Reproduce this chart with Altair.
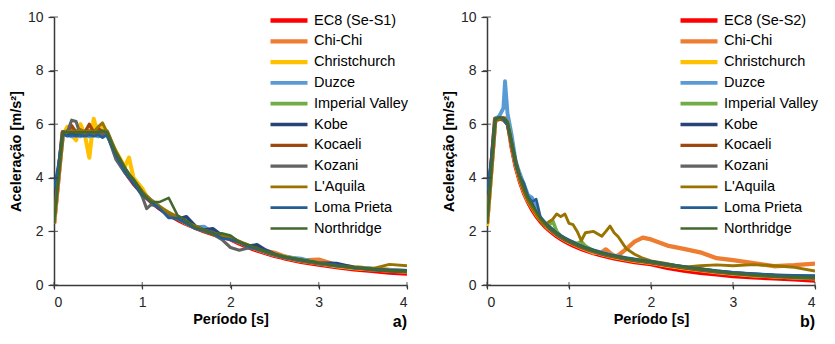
import altair as alt
import pandas as pd

FONT = "Liberation Sans"
AXIS_COLOR = "#3a3a3a"
TEXT_COLOR = "#262626"

NAMES_A = ["EC8 (Se-S1)", "Chi-Chi", "Christchurch", "Duzce", "Imperial Valley", "Kobe",
           "Kocaeli", "Kozani", "L'Aquila", "Loma Prieta", "Northridge"]
NAMES_B = ["EC8 (Se-S2)", "Chi-Chi", "Christchurch", "Duzce", "Imperial Valley", "Kobe",
           "Kocaeli", "Kozani", "L'Aquila", "Loma Prieta", "Northridge"]
COLORS = ["#FF0000", "#ED7D31", "#FFC000", "#5B9BD5", "#70AD47", "#264478",
          "#9E480E", "#636363", "#997300", "#255E91", "#43682B"]
WIDTHS = [4.5, 2.5, 2.5, 2.5, 2.5, 2.5, 2.5, 2.5, 2.5, 2.5, 2.5]

X_TICKS = [0, 1, 2, 3, 4]
Y_TICKS = [0, 2, 4, 6, 8, 10]

# ---------------- panel a) ----------------
T_A = [0, 0.05, 0.1, 0.15, 0.2, 0.25, 0.3, 0.35, 0.4, 0.45, 0.5, 0.55, 0.6, 0.7, 0.8, 0.85,
       0.9, 1.0, 1.05, 1.1, 1.2, 1.3, 1.4, 1.5, 1.6, 1.7, 1.8, 1.9, 2.0, 2.1, 2.2, 2.3, 2.4,
       2.5, 2.6, 2.8, 3.0, 3.2, 3.4, 3.6, 3.8, 4.0]
EC8_A = [2.3, 4.0, 5.7, 5.7, 5.7, 5.7, 5.7, 5.7, 5.7, 5.7, 5.7, 5.7, 5.7, 4.89, 4.28, 4.02, 3.8, 3.42, 3.26, 3.11, 2.85, 2.63, 2.44, 2.28, 2.14, 2.01, 1.9, 1.8, 1.71, 1.55, 1.41, 1.29, 1.19, 1.09, 1.01, 0.87, 0.76, 0.67, 0.59, 0.53, 0.47, 0.43]
CHICHI_A = [2.3, 4.1, 5.65, 5.7, 5.75, 5.7, 5.8, 5.7, 5.75, 5.7, 5.8, 5.7, 5.7, 4.95, 4.3, 4.05, 3.85, 3.45, 3.3, 3.15, 2.9, 2.65, 2.5, 2.3, 2.15, 2.05, 1.92, 1.82, 1.72, 1.6, 1.47, 1.35, 1.26, 1.2, 1.08, 0.92, 0.95, 0.74, 0.66, 0.6, 0.56, 0.52]
CHRIST_A = [2.3, 4.1, 5.6, 5.9, 5.6, 5.4, 6.0, 5.6, 4.75, 6.2, 5.6, 5.9, 5.6, 5.0, 4.4, 4.75, 4.0, 3.6, 3.3, 3.15, 2.9, 2.7, 2.5, 2.3, 2.15, 2.05, 1.95, 1.85, 1.75, 1.6, 1.45, 1.33, 1.22, 1.12, 1.04, 0.9, 0.8, 0.7, 0.63, 0.58, 0.53, 0.5]
DUZCE_A = [2.5, 4.2, 5.6, 5.6, 5.55, 5.6, 5.55, 5.6, 5.55, 5.6, 5.55, 5.6, 5.6, 4.95, 4.35, 4.1, 3.85, 3.45, 3.3, 3.15, 2.9, 2.65, 2.5, 2.3, 2.15, 2.18, 1.95, 1.85, 1.75, 1.6, 1.45, 1.33, 1.22, 1.12, 1.05, 0.98, 0.8, 0.72, 0.65, 0.6, 0.55, 0.52]
IMPV_A = [2.3, 4.0, 5.7, 5.75, 5.7, 5.75, 5.7, 5.75, 5.7, 5.75, 5.7, 5.75, 5.75, 4.95, 4.35, 4.1, 3.85, 3.45, 3.3, 3.15, 2.9, 2.7, 2.5, 2.32, 2.17, 2.05, 1.95, 1.85, 1.75, 1.6, 1.47, 1.35, 1.25, 1.15, 1.07, 0.93, 0.82, 0.74, 0.67, 0.62, 0.57, 0.53]
KOBE_A = [3.0, 4.3, 5.7, 5.65, 5.6, 5.65, 5.6, 5.6, 5.65, 5.6, 5.65, 5.6, 5.7, 4.9, 4.3, 4.05, 3.8, 3.4, 3.25, 3.1, 2.85, 2.6, 2.45, 2.55, 2.2, 2.05, 2.1, 1.85, 1.7, 1.6, 1.45, 1.5, 1.3, 1.15, 1.05, 0.92, 0.82, 0.8, 0.65, 0.58, 0.53, 0.5]
KOCAELI_A = [2.4, 4.1, 5.7, 5.7, 5.95, 5.7, 5.75, 5.7, 6.0, 5.7, 5.85, 5.7, 5.7, 4.9, 4.3, 4.05, 3.85, 3.45, 3.3, 3.15, 2.9, 2.65, 2.5, 2.3, 2.15, 2.05, 1.95, 1.85, 1.8, 1.6, 1.45, 1.33, 1.22, 1.12, 1.04, 0.9, 0.8, 0.72, 0.65, 0.6, 0.55, 0.52]
KOZANI_A = [2.3, 4.0, 5.6, 5.7, 6.15, 6.1, 5.6, 5.6, 5.7, 5.6, 5.7, 5.6, 5.65, 4.7, 4.2, 4.0, 3.9, 3.3, 2.85, 3.0, 2.9, 2.6, 2.45, 2.3, 2.12, 2.0, 1.9, 1.7, 1.4, 1.3, 1.38, 1.35, 1.22, 1.12, 1.03, 0.9, 0.8, 0.72, 0.64, 0.58, 0.53, 0.5]
LAQUILA_A = [2.3, 4.0, 5.6, 5.7, 5.75, 5.7, 5.8, 5.7, 5.75, 5.7, 5.9, 6.05, 5.7, 5.0, 4.4, 4.1, 3.95, 3.5, 3.3, 3.15, 2.9, 2.7, 2.55, 2.35, 2.2, 2.05, 1.95, 1.85, 1.75, 1.6, 1.47, 1.35, 1.25, 1.15, 1.06, 0.93, 0.82, 0.73, 0.65, 0.6, 0.77, 0.72]
LOMA_A = [3.6, 4.5, 5.65, 5.55, 5.6, 5.55, 5.6, 5.55, 5.6, 5.55, 5.6, 5.5, 5.6, 4.85, 4.25, 4.0, 3.8, 3.35, 3.25, 3.1, 2.85, 2.5, 2.5, 2.3, 2.1, 2.05, 1.95, 1.75, 1.7, 1.6, 1.45, 1.35, 1.27, 1.15, 1.05, 0.93, 0.82, 0.75, 0.65, 0.6, 0.55, 0.55]
NORTH_A = [2.3, 4.0, 5.7, 5.7, 5.7, 5.7, 5.7, 5.7, 5.7, 5.7, 5.7, 5.75, 5.7, 4.95, 4.4, 4.15, 3.95, 3.45, 3.25, 3.1, 3.1, 3.25, 2.6, 2.4, 2.15, 2.05, 1.9, 1.93, 1.85, 1.6, 1.5, 1.38, 1.25, 1.15, 1.05, 0.95, 0.82, 0.72, 0.65, 0.58, 0.52, 0.5]

# ---------------- panel b) ----------------
T_B = [0, 0.05, 0.1, 0.15, 0.2, 0.22, 0.25, 0.3, 0.35, 0.4, 0.45, 0.5, 0.55, 0.6, 0.65, 0.7,
       0.75, 0.8, 0.85, 0.9, 0.95, 1.0, 1.05, 1.1, 1.15, 1.2, 1.3, 1.4, 1.45, 1.5, 1.55, 1.6,
       1.7, 1.8, 1.9, 2.0, 2.2, 2.4, 2.6, 2.8, 3.0, 3.25, 3.5, 3.75, 4.0]
EC8_B = [2.3, 4.25, 6.2, 6.2, 6.2, 6.2, 6.2, 5.17, 4.43, 3.88, 3.44, 3.1, 2.82, 2.58, 2.38, 2.21, 2.07, 1.94, 1.82, 1.72, 1.63, 1.55, 1.48, 1.41, 1.35, 1.29, 1.19, 1.11, 1.07, 1.03, 1.0, 0.97, 0.91, 0.86, 0.82, 0.78, 0.64, 0.54, 0.46, 0.4, 0.34, 0.29, 0.25, 0.21, 0.17]
CHICHI_B = [2.3, 4.2, 6.15, 6.2, 6.2, 6.15, 6.05, 5.25, 4.55, 3.95, 3.5, 3.15, 2.9, 2.65, 2.45, 2.28, 2.12, 2.0, 1.88, 1.78, 1.69, 1.61, 1.54, 1.47, 1.4, 1.33, 1.2, 1.22, 1.33, 1.2, 1.08, 1.1, 1.35, 1.62, 1.77, 1.7, 1.47, 1.35, 1.22, 1.0, 0.93, 0.82, 0.7, 0.74, 0.8]
CHRIST_B = [2.2, 4.2, 6.2, 6.2, 6.2, 6.2, 6.05, 5.25, 4.5, 3.95, 3.5, 3.15, 2.9, 2.65, 2.44, 2.27, 2.12, 1.99, 1.87, 1.77, 1.68, 1.6, 1.53, 1.46, 1.4, 1.34, 1.24, 1.15, 1.11, 1.07, 1.04, 1.01, 0.95, 0.9, 0.86, 0.82, 0.72, 0.63, 0.55, 0.48, 0.42, 0.36, 0.32, 0.28, 0.25]
DUZCE_B = [2.4, 4.3, 6.2, 6.3, 6.6, 7.6, 6.4, 5.6, 4.6, 4.15, 3.75, 3.35, 3.25, 2.8, 2.5, 2.35, 2.2, 2.05, 1.93, 1.83, 1.74, 1.66, 1.59, 1.52, 1.45, 1.39, 1.29, 1.2, 1.16, 1.12, 1.09, 1.06, 1.0, 0.95, 0.9, 0.86, 0.76, 0.67, 0.59, 0.52, 0.45, 0.4, 0.35, 0.32, 0.3]
IMPV_B = [2.3, 4.2, 6.1, 6.2, 6.2, 6.15, 6.1, 5.3, 4.55, 4.0, 3.55, 3.2, 2.95, 2.7, 2.45, 2.3, 2.2, 2.4, 2.0, 1.82, 1.72, 1.64, 1.57, 1.55, 1.62, 1.45, 1.27, 1.18, 1.14, 1.1, 1.07, 1.04, 0.98, 0.93, 0.89, 0.85, 0.74, 0.65, 0.57, 0.49, 0.42, 0.36, 0.31, 0.27, 0.24]
KOBE_B = [3.0, 4.5, 6.2, 6.2, 6.2, 6.1, 6.0, 5.3, 4.6, 4.0, 3.6, 3.25, 3.0, 2.7, 2.5, 2.3, 2.18, 2.05, 1.92, 1.82, 1.73, 1.65, 1.58, 1.5, 1.44, 1.38, 1.28, 1.19, 1.15, 1.11, 1.08, 1.05, 0.99, 0.94, 0.9, 0.86, 0.76, 0.67, 0.59, 0.51, 0.45, 0.4, 0.36, 0.33, 0.32]
KOCAELI_B = [2.3, 4.2, 6.2, 6.2, 6.15, 6.1, 6.0, 5.2, 4.5, 3.95, 3.5, 3.15, 2.9, 2.65, 2.45, 2.27, 2.12, 1.99, 1.87, 1.77, 1.68, 1.6, 1.53, 1.46, 1.4, 1.34, 1.24, 1.15, 1.11, 1.08, 1.05, 1.02, 0.96, 0.91, 0.87, 0.83, 0.73, 0.64, 0.56, 0.49, 0.43, 0.37, 0.32, 0.29, 0.26]
KOZANI_B = [2.3, 4.2, 6.2, 6.25, 6.2, 6.2, 6.05, 5.3, 4.55, 4.0, 3.55, 3.2, 2.92, 2.68, 2.46, 2.28, 2.14, 2.0, 1.88, 1.78, 1.7, 1.62, 1.55, 1.48, 1.42, 1.36, 1.25, 1.16, 1.12, 1.09, 1.06, 1.03, 0.97, 0.92, 0.88, 0.84, 0.74, 0.65, 0.57, 0.5, 0.44, 0.38, 0.33, 0.3, 0.27]
LAQUILA_B = [2.3, 4.2, 6.2, 6.2, 6.2, 6.15, 6.05, 5.25, 4.55, 4.0, 3.55, 3.2, 2.92, 2.65, 2.4, 2.22, 2.35, 2.45, 2.65, 2.55, 2.65, 2.3, 2.25, 2.0, 1.65, 1.95, 2.0, 1.82, 2.0, 2.2, 1.95, 1.8, 1.35, 1.15, 1.0, 0.9, 0.8, 0.66, 0.72, 0.75, 0.72, 0.76, 0.72, 0.66, 0.52]
LOMA_B = [3.5, 4.6, 6.2, 6.25, 6.2, 6.1, 6.0, 5.3, 4.5, 4.05, 3.8, 3.3, 3.1, 3.2, 2.55, 2.35, 2.2, 2.08, 1.95, 1.84, 1.75, 1.67, 1.6, 1.52, 1.46, 1.4, 1.3, 1.21, 1.17, 1.13, 1.1, 1.07, 1.01, 0.96, 0.92, 0.88, 0.78, 0.69, 0.61, 0.53, 0.47, 0.42, 0.38, 0.36, 0.35]
NORTH_B = [2.3, 4.2, 6.2, 6.25, 6.25, 6.2, 6.1, 5.35, 4.6, 4.05, 3.6, 3.25, 3.0, 2.75, 2.5, 2.32, 2.17, 2.04, 1.92, 1.81, 1.72, 1.64, 1.57, 1.5, 1.44, 1.38, 1.28, 1.19, 1.15, 1.11, 1.08, 1.05, 0.99, 0.94, 0.9, 0.86, 0.76, 0.67, 0.59, 0.51, 0.44, 0.38, 0.33, 0.3, 0.28]

SERIES_A = [EC8_A, CHICHI_A, CHRIST_A, DUZCE_A, IMPV_A, KOBE_A, KOCAELI_A, KOZANI_A,
            LAQUILA_A, LOMA_A, NORTH_A]
SERIES_B = [EC8_B, CHICHI_B, CHRIST_B, DUZCE_B, IMPV_B, KOBE_B, KOCAELI_B, KOZANI_B,
            LAQUILA_B, LOMA_B, NORTH_B]


def long_frame(names, periods, series):
    rows = []
    for name, vals in zip(names, series):
        for t, v in zip(periods, vals):
            rows.append({"Registo": name, "T": t, "Se": v})
    return pd.DataFrame(rows)


def panel(names, periods, series, tag, width, legend_x):
    df = long_frame(names, periods, series)
    legend = alt.Legend(
        title=None, orient="none", legendX=legend_x, legendY=-4,
        symbolType="stroke", symbolSize=1369, clipHeight=15, rowPadding=4.8,
        labelOffset=4, labelFontSize=14.5, labelFont=FONT, labelColor="#000000",
        padding=0, labelLimit=200,
    )
    lines = alt.Chart(df).mark_line(strokeJoin="round", clip=True).encode(
        x=alt.X("T:Q", scale=alt.Scale(domain=[0, 4], nice=False),
                axis=alt.Axis(values=X_TICKS, title="Período [s]", format="d")),
        y=alt.Y("Se:Q", scale=alt.Scale(domain=[0, 10], nice=False),
                axis=alt.Axis(values=Y_TICKS, title="Aceleração [m/s²]", format="d")),
        color=alt.Color("Registo:N", scale=alt.Scale(domain=names, range=COLORS),
                        sort=names, legend=legend),
        strokeWidth=alt.StrokeWidth("Registo:N", scale=alt.Scale(domain=names, range=WIDTHS),
                                    sort=names, legend=legend),
    )
    xt = alt.Chart(pd.DataFrame({"t": X_TICKS})).mark_tick(
        orient="vertical", size=6, thickness=1.2, color=AXIS_COLOR
    ).encode(x=alt.X("t:Q", title="Período [s]"), y=alt.datum(0))
    yt = alt.Chart(pd.DataFrame({"t": Y_TICKS})).mark_tick(
        orient="horizontal", size=8, thickness=1.2, color=AXIS_COLOR
    ).encode(y=alt.Y("t:Q", title="Aceleração [m/s²]"), x=alt.datum(0))
    return alt.layer(lines, xt, yt).properties(
        width=width, height=268,
        title=alt.TitleParams(tag, orient="bottom", anchor="end", frame="group",
                              fontSize=16, fontWeight="bold", font=FONT, color="#000000",
                              offset=-12),
    )


left = panel(NAMES_A, T_A, SERIES_A, "a)", 353, 214)
right = panel(NAMES_B, T_B, SERIES_B, "b)", 328, 191)

chart = alt.hconcat(left, right, spacing=32).resolve_scale(
    color="independent", strokeWidth="independent"
).resolve_legend(color="independent", strokeWidth="independent").properties(
    padding={"left": 0, "top": 2, "right": 0, "bottom": 0},
    background="white",
).configure_view(stroke=None).configure_axis(
    domainColor=AXIS_COLOR, domainWidth=1.5, tickColor=AXIS_COLOR, tickWidth=1.2,
    labelFont=FONT, labelFontSize=14, labelColor=TEXT_COLOR,
    titleFont=FONT, titleFontSize=14.5, titleFontWeight="bold", titleColor="#000000",
    grid=False,
).configure_axisX(
    tickSize=4, labelPadding=6, titlePadding=3,
).configure_axisY(
    tickSize=6, labelPadding=5, titlePadding=4,
)

chart.save("out.html", embed_options={"renderer": "svg", "actions": False})
